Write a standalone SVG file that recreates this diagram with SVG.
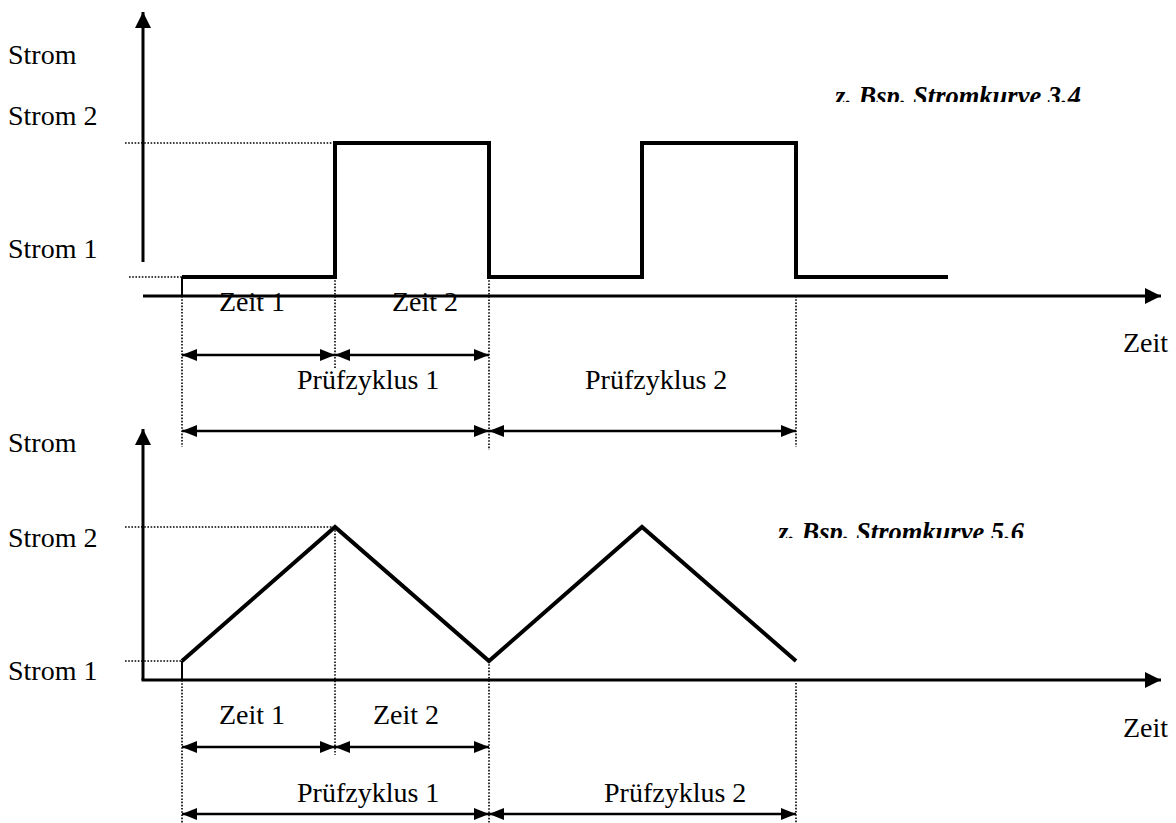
<svg xmlns="http://www.w3.org/2000/svg" width="1176" height="823" viewBox="0 0 1176 823">
  <style>
    .lbl { font-family: "Liberation Serif", "Times New Roman", serif; font-size: 28px; fill: #000; }
    .note { font-family: "Liberation Serif", "Times New Roman", serif; font-size: 26.5px; font-weight: bold; font-style: italic; fill: #000; }
    .axis { stroke: #000; stroke-width: 3; fill: none; }
    .wave { stroke: #000; stroke-width: 4; fill: none; stroke-linejoin: miter; }
    .foot { stroke: #000; stroke-width: 2; fill: none; }
    .dot { stroke: #000; stroke-width: 1.6; stroke-dasharray: 1.6 1.6; fill: none; }
    .dim { stroke: #000; stroke-width: 2.5; fill: none; marker-start: url(#dimHead); marker-end: url(#dimHead); }
  </style>
  <defs>
    <marker id="axisHead" viewBox="0 0 16 16" refX="16" refY="8" markerWidth="16" markerHeight="16" markerUnits="userSpaceOnUse" orient="auto">
      <path d="M0,0 L16,8 L0,16 z" fill="#000"/>
    </marker>
    <marker id="dimHead" viewBox="0 0 15 12" refX="15" refY="6" markerWidth="15" markerHeight="12" markerUnits="userSpaceOnUse" orient="auto-start-reverse">
      <path d="M0,0 L15,6 L0,12 z" fill="#000"/>
    </marker>
    <clipPath id="clipNote1"><rect x="800" y="60" width="376" height="42"/></clipPath>
    <clipPath id="clipNote2"><rect x="740" y="495" width="436" height="43"/></clipPath>
  </defs>

  <!-- Upper chart: rectangular current curve -->
  <g id="chart-square">
    <g id="square-axes">
      <line class="axis" x1="143" y1="262" x2="143" y2="12" marker-end="url(#axisHead)"/>
      <line class="axis" x1="143" y1="296" x2="1161" y2="296" marker-end="url(#axisHead)"/>
    </g>
    <g id="square-guides">
      <line class="dot" x1="125" y1="143" x2="335" y2="143"/>
      <line class="dot" x1="129" y1="277" x2="182" y2="277"/>
      <line class="dot" x1="182" y1="296" x2="182" y2="447"/>
      <line class="dot" x1="335" y1="277" x2="335" y2="368"/>
      <line class="dot" x1="489" y1="277" x2="489" y2="450"/>
      <line class="dot" x1="796" y1="296" x2="796" y2="447"/>
    </g>
    <g id="square-curve">
      <line class="foot" x1="182" y1="296" x2="182" y2="277"/>
      <polyline class="wave" points="182,277 335,277 335,143 489,143 489,277 642,277 642,143 796,143 796,277 948,277"/>
    </g>
    <g id="square-labels">
      <text class="lbl" x="8" y="64">Strom</text>
      <text class="lbl" x="8" y="125">Strom 2</text>
      <text class="lbl" x="8" y="258">Strom 1</text>
      <text class="lbl" x="1123" y="352">Zeit</text>
      <text class="lbl" x="219" y="311">Zeit 1</text>
      <text class="lbl" x="392" y="311">Zeit 2</text>
      <text class="lbl" x="297" y="389">Prüfzyklus 1</text>
      <text class="lbl" x="585" y="389">Prüfzyklus 2</text>
      <text class="note" x="835" y="104.5" clip-path="url(#clipNote1)">z. Bsp. Stromkurve 3.4</text>
    </g>
  </g>

  <!-- Lower chart: triangular current curve -->
  <g id="chart-triangle">
    <g id="triangle-axes">
      <polyline class="axis" points="143,680 143,430"/>
      <line class="axis" x1="143" y1="430" x2="143" y2="429" marker-end="url(#axisHead)"/>
      <line class="axis" x1="141.5" y1="680" x2="1161" y2="680" marker-end="url(#axisHead)"/>
    </g>
    <g id="triangle-guides">
      <line class="dot" x1="125" y1="527" x2="335" y2="527"/>
      <line class="dot" x1="125" y1="661" x2="182" y2="661"/>
      <line class="dot" x1="182" y1="680" x2="182" y2="823"/>
      <line class="dot" x1="335" y1="527" x2="335" y2="755"/>
      <line class="dot" x1="489" y1="661" x2="489" y2="823"/>
      <line class="dot" x1="796" y1="683" x2="796" y2="823"/>
    </g>
    <g id="triangle-curve">
      <line class="foot" x1="182" y1="680" x2="182" y2="661"/>
      <polyline class="wave" points="182,661 335,527 489,661 642,527 796,661"/>
    </g>
    <g id="triangle-labels">
      <text class="lbl" x="8" y="452">Strom</text>
      <text class="lbl" x="8" y="547">Strom 2</text>
      <text class="lbl" x="8" y="680">Strom 1</text>
      <text class="lbl" x="1123" y="737">Zeit</text>
      <text class="lbl" x="219" y="724">Zeit 1</text>
      <text class="lbl" x="373" y="724">Zeit 2</text>
      <text class="lbl" x="297" y="802">Prüfzyklus 1</text>
      <text class="lbl" x="604" y="802">Prüfzyklus 2</text>
      <text class="note" x="778" y="540.5" clip-path="url(#clipNote2)">z. Bsp. Stromkurve 5.6</text>
    </g>
  </g>

  <!-- Dimension arrows for phase and cycle durations -->
  <g id="connectors">
    <line class="dim" x1="182" y1="355" x2="335" y2="355"/>
    <line class="dim" x1="335" y1="355" x2="489" y2="355"/>
    <line class="dim" x1="182" y1="431" x2="489" y2="431"/>
    <line class="dim" x1="489" y1="431" x2="796" y2="431"/>
    <line class="dim" x1="182" y1="747" x2="335" y2="747"/>
    <line class="dim" x1="335" y1="747" x2="489" y2="747"/>
    <line class="dim" x1="182" y1="814" x2="489" y2="814"/>
    <line class="dim" x1="489" y1="814" x2="796" y2="814"/>
  </g>
</svg>
